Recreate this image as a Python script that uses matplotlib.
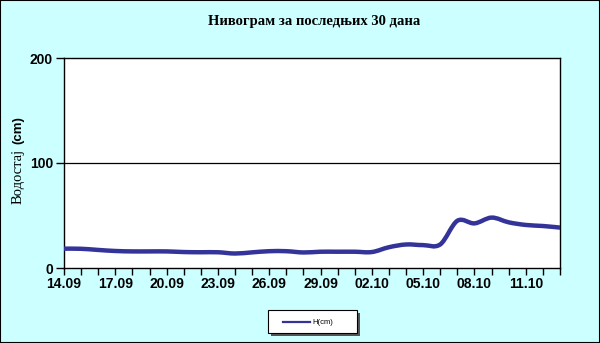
import matplotlib
matplotlib.use("Agg")
import matplotlib.pyplot as plt
import numpy as np
from matplotlib.path import Path
from matplotlib.patches import PathPatch, Rectangle
from matplotlib.lines import Line2D

dates = ["14.09", "15.09", "16.09", "17.09", "18.09", "19.09", "20.09", "21.09", "22.09", "23.09",
         "24.09", "25.09", "26.09", "27.09", "28.09", "29.09", "30.09", "01.10", "02.10", "03.10",
         "04.10", "05.10", "06.10", "07.10", "08.10", "09.10", "10.10", "11.10", "12.10", "13.10"]
level = [18.4, 18.3, 17.2, 16.2, 15.8, 15.8, 15.8, 15.2, 15.0, 15.0,
         13.8, 14.9, 16.0, 16.0, 14.8, 15.5, 15.5, 15.5, 15.2, 19.8,
         22.4, 21.8, 22.5, 45.0, 42.5, 48.0, 43.5, 41.0, 40.0, 38.5]
yticks = [0, 100, 200]
tick_labels_shown = dates[::3]

navy = "#333399"
bg = "#CCFFFF"

fig = plt.figure(figsize=(6.0, 3.43), dpi=100, facecolor=bg)
fig.patches.append(Rectangle((0, 0), 1, 1, transform=fig.transFigure, fill=False,
                             edgecolor="black", linewidth=1.5))
ax = fig.add_axes([64/600, 75/343, 496/600, 210/343])
ax.set_facecolor("white")

x = np.arange(len(level))
y = np.array(level, dtype=float)

# smooth (Catmull-Rom -> Bezier) rendering through the data points
verts = [(x[0], y[0])]
codes = [Path.MOVETO]
n = len(x)
for i in range(n - 1):
    p0 = np.array([x[max(i-1, 0)], y[max(i-1, 0)]])
    p1 = np.array([x[i], y[i]])
    p2 = np.array([x[i+1], y[i+1]])
    p3 = np.array([x[min(i+2, n-1)], y[min(i+2, n-1)]])
    c1 = p1 + (p2 - p0) / 6.0
    c2 = p2 - (p3 - p1) / 6.0
    verts += [tuple(c1), tuple(c2), tuple(p2)]
    codes += [Path.CURVE4] * 3
ax.add_patch(PathPatch(Path(verts, codes), facecolor="none", edgecolor=navy,
                       linewidth=3.2, capstyle="round", joinstyle="round", zorder=3))

ax.set_xlim(0, n - 1)
ax.set_ylim(0, 200)
ax.set_yticks(yticks)
ax.set_yticklabels([str(v) for v in yticks], fontfamily="Liberation Sans",
                   fontweight="bold", fontsize=10)
ax.set_xticks(np.arange(0, n, 3))
ax.set_xticklabels(tick_labels_shown, fontfamily="Liberation Sans",
                   fontweight="bold", fontsize=10)
ax.set_xticks(np.arange(n), minor=True)
ax.tick_params(axis="x", which="both", direction="out", length=5, width=1, pad=1.5)
ax.tick_params(axis="y", direction="out", length=6, width=1, pad=2)
ax.axhline(100, color="black", linewidth=0.9, zorder=1)
for s in ax.spines.values():
    s.set_linewidth(1.0)

fig.text(314/600, 1 - 22/343, "Нивограм за последњих 30 дана", ha="center", va="center",
         fontfamily="Liberation Serif", fontweight="bold", fontsize=10.5)
fig.text(18/600, 1 - 177/343, "Водостај", rotation=90, ha="center", va="center",
         fontfamily="Liberation Serif", fontsize=10.5)
fig.text(18/600, 1 - 130/343, "(cm)", rotation=90, ha="center", va="center",
         fontfamily="Liberation Sans", fontweight="bold", fontsize=9.5)

# legend box with shadow
fig.patches.append(Rectangle((271/600, 1 - 336/343), 89/600, 23/343, transform=fig.transFigure,
                             facecolor="#555555", edgecolor="none"))
fig.patches.append(Rectangle((268/600, 1 - 333/343), 89/600, 23/343, transform=fig.transFigure,
                             facecolor="white", edgecolor="black", linewidth=0.8))
fig.lines.append(Line2D([283/600, 310/600], [1 - 322/343] * 2, transform=fig.transFigure,
                        color=navy, linewidth=1.6))
fig.text(312/600, 1 - 322/343, "H(cm)", ha="left", va="center",
         fontfamily="Liberation Sans", fontsize=5.5)

fig.savefig("out.png", dpi=100, facecolor=bg)
